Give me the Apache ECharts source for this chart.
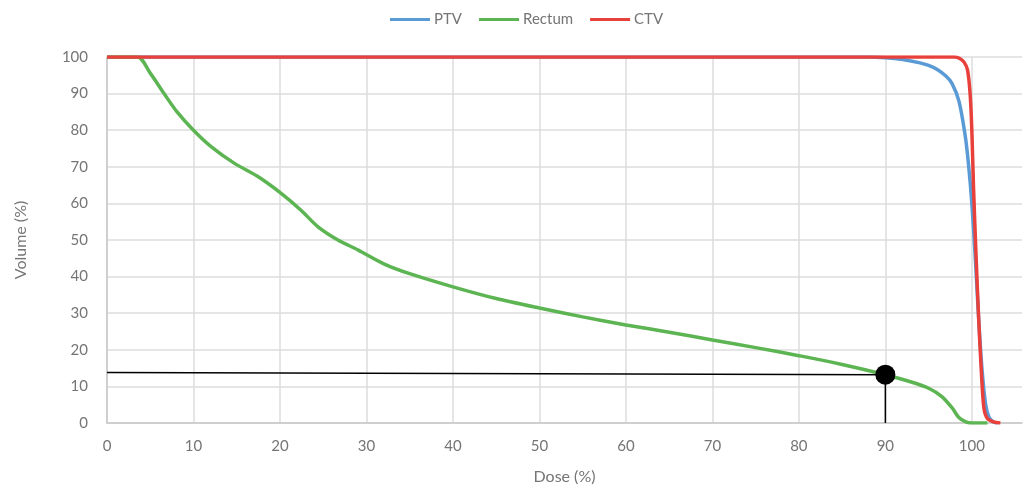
<!DOCTYPE html>
<html>
<head>
<meta charset="utf-8">
<script src="https://cdn.jsdelivr.net/npm/echarts@6/dist/echarts.min.js"></script>
<style>
  html, body { margin: 0; padding: 0; background: #fff; }
  #chart { width: 1025px; height: 491px; }
</style>
</head>
<body>
<div id="chart"></div>
<script>
// dose (%) / volume (%) pairs
const ptv = [
  [0, 100], [88, 100], [90, 99.8], [92, 99.3], [94, 98.4], [95, 97.7], [96, 96.6],
  [97, 94.8], [97.7, 92.8], [98.5, 88], [99.2, 79], [99.6, 71], [100, 60],
  [100.4, 45], [100.8, 28], [101.2, 14], [101.6, 5], [102, 1.5], [102.5, 0.3], [103, 0]
];
const rectum = [
  [0, 100], [3.5, 100], [5, 95.6], [6.6, 90], [8.1, 85], [10, 80], [12, 75.6],
  [14.7, 71], [17.4, 67.4], [20.1, 62.8], [22.4, 58.2], [24.4, 53.6], [26.7, 50],
  [29, 47.3], [32, 43.5], [35, 40.8], [40, 37.2], [45, 34], [50, 31.4], [55, 29],
  [60, 26.8], [65, 24.8], [70, 22.7], [75, 20.6], [80, 18.4], [85, 16], [90, 13.2],
  [93, 11.2], [95, 9.5], [96.5, 7.3], [97.7, 4.2], [98.5, 1.5], [99.3, 0.3],
  [100, 0], [101.8, 0]
];
const ctv = [
  [0, 100], [98, 100], [98.6, 99.6], [99.1, 98.6], [99.5, 96.5], [99.8, 90],
  [100, 80], [100.2, 64], [100.5, 45], [100.8, 28], [101.1, 14], [101.4, 4],
  [101.8, 1.2], [102.5, 0.3], [103.3, 0]
];
// reading marker at 90% dose
const markPoint = [90, 13.2];
const markHoriz = [[0, 13.8], [90, 13.2]];
const markVert = [[90, 13.2], [90, 0]];

const seriesNames = ['PTV', 'Rectum', 'CTV'];
const seriesColors = ['#5B9BD5', '#5CB552', '#E8403A'];
const seriesData = [ptv, rectum, ctv];

const chart = echarts.init(document.getElementById('chart'));
const grey = '#757575';

const curves = seriesNames.map((name, i) => ({
  name: name,
  type: 'line',
  data: seriesData[i],
  smooth: 0.3,
  showSymbol: false,
  lineStyle: { color: seriesColors[i], width: 3.5 },
  itemStyle: { color: seriesColors[i] },
  z: 2 + i
}));

chart.setOption({
  animation: false,
  textStyle: { fontFamily: 'Lato' },
  legend: {
    data: seriesNames,
    left: 385,
    top: 7,
    icon: 'rect',
    itemWidth: 40,
    itemHeight: 3,
    itemGap: 17,
    textStyle: { color: grey, fontSize: 15, padding: [0, 0, 0, -1] }
  },
  grid: { left: 107, top: 57, right: 3, bottom: 68 },
  xAxis: {
    type: 'value',
    min: 0,
    max: 105.8,
    interval: 10,
    name: 'Dose (%)',
    nameLocation: 'middle',
    nameGap: 46,
    nameTextStyle: { color: grey, fontSize: 16 },
    axisLine: { show: true, lineStyle: { color: '#c8c8c8', width: 1.5 } },
    axisTick: { show: false },
    axisLabel: { color: grey, fontSize: 15, margin: 16, showMaxLabel: false },
    splitLine: { show: true, showMaxLine: false, lineStyle: { color: '#dcdcdc', width: 1.5 } }
  },
  yAxis: {
    type: 'value',
    min: 0,
    max: 100,
    interval: 10,
    name: 'Volume (%)',
    nameLocation: 'middle',
    nameGap: 78,
    nameTextStyle: { color: grey, fontSize: 16 },
    axisLine: { show: true, lineStyle: { color: '#c8c8c8', width: 1.5 } },
    axisTick: { show: false },
    axisLabel: { color: grey, fontSize: 15, margin: 19 },
    splitLine: { show: true, lineStyle: { color: '#dcdcdc', width: 1.5 } }
  },
  series: curves.concat([
    {
      type: 'line',
      data: markHoriz,
      showSymbol: false,
      lineStyle: { color: '#000', width: 1.5 },
      z: 6
    },
    {
      type: 'line',
      data: markVert,
      showSymbol: false,
      lineStyle: { color: '#000', width: 1.5 },
      z: 6
    },
    {
      type: 'scatter',
      data: [markPoint],
      symbolSize: 20,
      itemStyle: { color: '#000', opacity: 1 },
      z: 7
    }
  ])
});
</script>
</body>
</html>
